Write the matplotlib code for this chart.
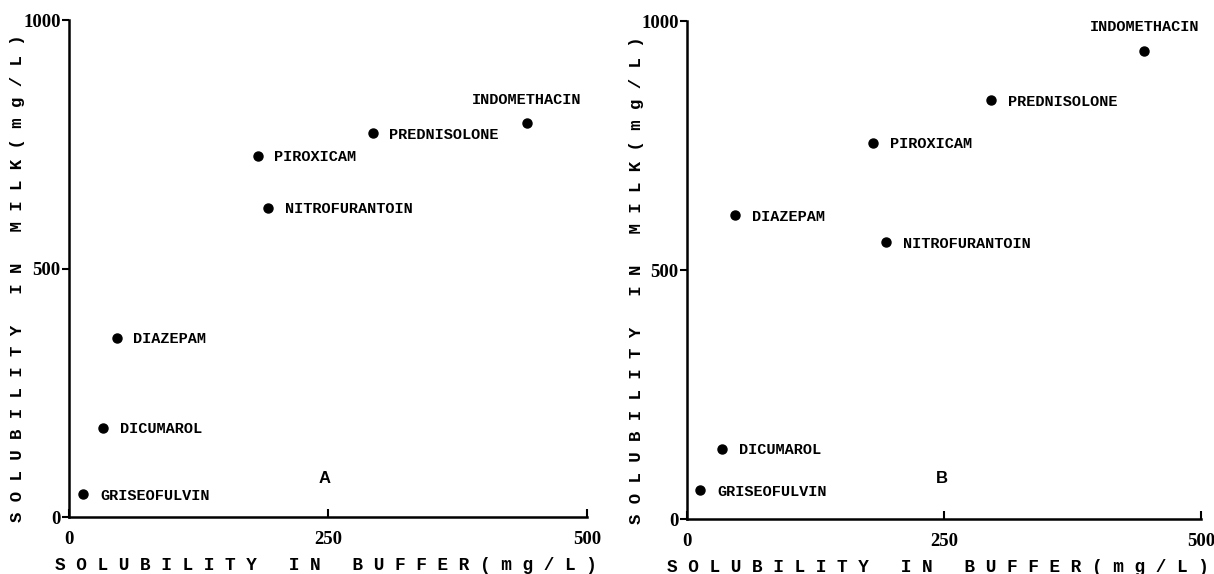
import matplotlib
matplotlib.use("Agg")
import matplotlib.pyplot as plt

# panel A
drugs_a = ["INDOMETHACIN", "PREDNISOLONE", "PIROXICAM", "NITROFURANTOIN",
           "DIAZEPAM", "DICUMAROL", "GRISEOFULVIN"]
buffer_a = [442, 293, 182, 192, 46, 33, 14]
milk_a = [792, 772, 727, 622, 360, 180, 46]

# panel B
drugs_b = ["INDOMETHACIN", "PREDNISOLONE", "PIROXICAM", "NITROFURANTOIN",
           "DIAZEPAM", "DICUMAROL", "GRISEOFULVIN"]
buffer_b = [445, 296, 181, 194, 47, 34, 13]
milk_b = [940, 841, 755, 556, 610, 141, 58]

x_ticks = [0, 250, 500]
y_ticks = [0, 500, 1000]
panel_tags = ["A", "B"]
panel_tag_pos = [(247, 78), (248, 82)]


def spaced(s):
    # typewriter-style wide lettering
    return " ".join(s)


mono = "Liberation Mono"
serif = "Liberation Serif"

fig = plt.figure(figsize=(12.14, 5.74), dpi=100)
ax_a = fig.add_axes([0.0568, 0.0993, 0.4267, 0.8658])
ax_b = fig.add_axes([0.5659, 0.0958, 0.4234, 0.8676])

panels = [(ax_a, drugs_a, buffer_a, milk_a), (ax_b, drugs_b, buffer_b, milk_b)]
xlabel_x = [0.496, 0.488]

for i, (ax, drugs, xs, ys) in enumerate(panels):
    ax.plot(xs, ys, "o", color="black", markersize=6.5, clip_on=False)
    for name, x, y in zip(drugs, xs, ys):
        if name == "INDOMETHACIN":
            ax.annotate(name, (x, y), xytext=(0, 17), textcoords="offset points",
                        ha="center", va="center", fontsize=11, fontfamily=mono,
                        fontweight="bold")
        else:
            ax.annotate(name, (x, y), xytext=(12, -1), textcoords="offset points",
                        ha="left", va="center", fontsize=11, fontfamily=mono,
                        fontweight="bold")

    tx, ty = panel_tag_pos[i]
    ax.text(tx, ty, panel_tags[i], ha="center", va="center", fontsize=12,
            fontweight="bold", fontfamily="Liberation Sans")

    ax.set_xlim(0, 500)
    ax.set_ylim(0, 1000)
    ax.set_xticks(x_ticks)
    ax.set_yticks(y_ticks)
    ax.set_xticklabels([str(v) for v in x_ticks], fontfamily=serif,
                       fontweight="bold", fontsize=13.5)
    ax.set_yticklabels([str(v) for v in y_ticks], fontfamily=serif,
                       fontweight="bold", fontsize=13.5)
    ax.tick_params(axis="x", direction="in", length=6, width=1.5, pad=10)
    ax.tick_params(axis="y", direction="out", length=5, width=1.5, pad=1)

    for side in ["top", "right"]:
        ax.spines[side].set_visible(False)
    for side in ["left", "bottom"]:
        ax.spines[side].set_linewidth(1.8)

    ax.text(xlabel_x[i], -0.097, spaced("SOLUBILITY IN BUFFER(mg/L)"), transform=ax.transAxes,
            ha="center", va="center", fontsize=12.8, fontfamily=mono, fontweight="bold")
    ax.text(-0.099, 0.48, spaced("SOLUBILITY IN MILK(mg/L)"), transform=ax.transAxes,
            ha="center", va="center", rotation=90, fontsize=12.5, fontfamily=mono,
            fontweight="bold")

fig.savefig("out.png", dpi=100, facecolor="white")
